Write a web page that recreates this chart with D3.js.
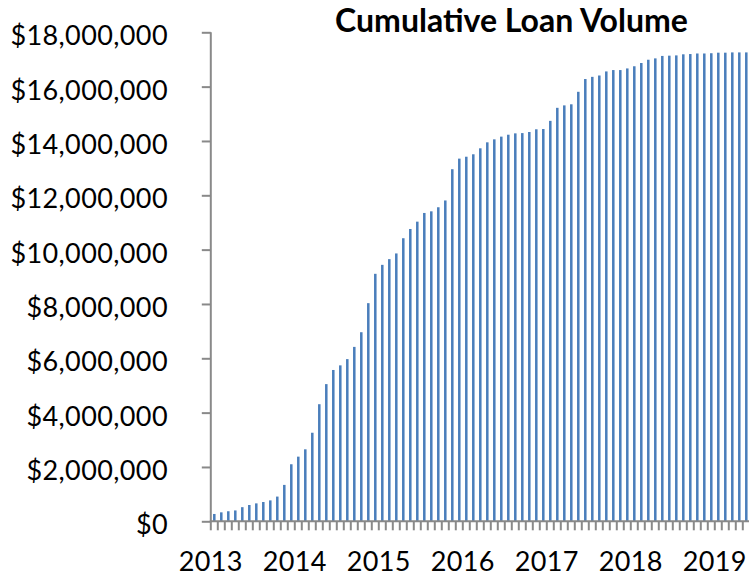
<!DOCTYPE html>
<html>
<head>
<meta charset="utf-8">
<script src="https://cdn.jsdelivr.net/npm/d3@7"></script>
<style>
  html, body { margin: 0; padding: 0; background: #fff; }
  svg { display: block; }
</style>
</head>
<body>
<svg id="chart" width="749" height="577"></svg>
<script>
// ---- data ----
const title = "Cumulative Loan Volume";
const startMonth = "2013-01";
const monthCount = 77;
// cumulative loan volume, millions of dollars, one value per month from Jan 2013
const values = [
  0.27, 0.33, 0.37, 0.40, 0.52, 0.60, 0.66, 0.71, 0.77, 0.91, 1.34, 2.10,
  2.38, 2.65, 3.26, 4.31, 5.05, 5.57, 5.74, 5.97, 6.42, 6.96, 8.03, 9.11,
  9.44, 9.65, 9.86, 10.42, 10.76, 11.03, 11.35, 11.41, 11.56, 11.81, 12.96, 13.35,
  13.42, 13.51, 13.73, 13.95, 14.06, 14.16, 14.23, 14.28, 14.29, 14.33, 14.43, 14.44,
  14.74, 15.22, 15.31, 15.35, 15.81, 16.28, 16.36, 16.41, 16.56, 16.61, 16.61, 16.67,
  16.75, 16.87, 16.99, 17.04, 17.13, 17.14, 17.15, 17.19, 17.20, 17.22, 17.22, 17.23,
  17.25, 17.25, 17.26, 17.26, 17.26
];
const yTicks = [0, 2e6, 4e6, 6e6, 8e6, 10e6, 12e6, 14e6, 16e6, 18e6];
const yearLabels = ["2013", "2014", "2015", "2016", "2017", "2018", "2019"];

(function () {
// categories (months)
const parse = d3.timeParse("%Y-%m");
const fmtMonth = d3.timeFormat("%Y-%m");
const t0 = parse(startMonth);
const categories = d3.timeMonth.range(t0, d3.timeMonth.offset(t0, monthCount)).map(fmtMonth);

// ---- layout ----
const svg = d3.select("#chart");
const plotLeft = 210.8, step = 7;
const plotBottom = 521.3, plotTop = 32.3;
const axisColor = "#898989";
const barColor = "#4a7ebb";
const font = "Lato, 'Open Sans', sans-serif";

const x = d3.scaleBand()
  .domain(categories)
  .range([plotLeft, plotLeft + step * categories.length])
  .paddingInner(0.64)
  .paddingOuter(0.32);

const y = d3.scaleLinear().domain([0, 18e6]).range([plotBottom, plotTop]);

// bars
svg.append("g")
  .selectAll("rect")
  .data(values)
  .join("rect")
  .attr("x", (d, i) => x(categories[i]))
  .attr("width", x.bandwidth())
  .attr("y", d => y(d * 1e6))
  .attr("height", d => plotBottom - y(d * 1e6))
  .attr("fill", barColor);

// y axis
const yAxis = d3.axisLeft(y)
  .tickValues(yTicks)
  .tickSize(9)
  .tickPadding(0)
  .tickFormat(d => "$" + d3.format(",")(d));

const gy = svg.append("g")
  .attr("transform", `translate(${plotLeft},0)`)
  .call(yAxis);
gy.select(".domain").attr("stroke", axisColor).attr("stroke-width", 2)
  .attr("d", `M0,${plotTop}V${plotBottom}`);
gy.selectAll(".tick line").attr("stroke", axisColor).attr("stroke-width", 2);
gy.selectAll(".tick text")
  .attr("x", 168 - plotLeft)
  .attr("dy", null)
  .attr("y", 12.5)
  .attr("fill", "#000")
  .style("font-family", font)
  .style("font-size", "27px")
  .style("letter-spacing", "0.4px")
  .attr("text-anchor", "end");

// x axis: ticks at category boundaries
const xBound = d3.scaleLinear().domain([0, categories.length]).range([plotLeft, plotLeft + step * categories.length]);
const gx = svg.append("g");
gx.append("line")
  .attr("x1", plotLeft - 1).attr("x2", 749)
  .attr("y1", plotBottom).attr("y2", plotBottom)
  .attr("stroke", axisColor).attr("stroke-width", 2);
gx.selectAll("line.tk")
  .data(d3.range(categories.length))
  .join("line")
  .attr("class", "tk")
  .attr("x1", i => xBound(i)).attr("x2", i => xBound(i))
  .attr("y1", plotBottom).attr("y2", plotBottom + 9)
  .attr("stroke", axisColor).attr("stroke-width", 2);

gx.selectAll("text")
  .data(yearLabels)
  .join("text")
  .attr("x", (d, i) => xBound(i * 12))
  .attr("y", 571)
  .attr("text-anchor", "middle")
  .style("font-family", font)
  .style("font-size", "27px")
  .style("letter-spacing", "0.4px")
  .attr("fill", "#000")
  .text(d => d);

// title
const tt = svg.append("text")
  .attr("x", 511.5)
  .attr("y", 32)
  .attr("text-anchor", "middle")
  .style("font-family", font)
  .style("font-weight", "bold")
  .style("font-size", "24px")
  .attr("fill", "#000")
  .text(title);
const w = tt.node().getComputedTextLength();
tt.style("font-size", (24 * 353 / w).toFixed(2) + "px");
})();
</script>
</body>
</html>
